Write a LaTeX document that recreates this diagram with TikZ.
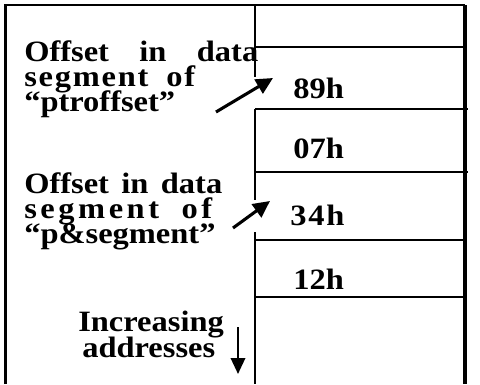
\documentclass[tikz,border=0pt]{standalone}
\usepackage{fontspec}
\setmainfont{Liberation Serif}[FakeStretch=1.1]
\usetikzlibrary{arrows.meta}
\newcommand{\lsp}[2]{{\addfontfeature{LetterSpace=#1}#2}}

\begin{document}
\begin{tikzpicture}[
    lbl/.style={anchor=base west,inner sep=0pt,font=\bfseries\fontsize{21pt}{21pt}\selectfont},
    cell/.style={anchor=base west,inner sep=0pt,font=\bfseries\fontsize{21pt}{21pt}\selectfont},
    rule/.style={line width=1.8pt},
    ptr/.style={line width=2.2pt,-{Triangle[length=0.42cm,width=0.4cm]}}]
  \useasboundingbox (0,0) rectangle (12,9.6);
  % frame and stack column
  \draw[rule] (0.14,0)--(0.14,9.475)--(11.625,9.475);
  \draw[line width=3pt] (11.625,9.475)--(11.625,0);
  \draw[rule] (6.375,9.475)--(6.375,7.675);
  \draw[rule] (6.375,6.875)--(6.375,4.6);
  \draw[rule] (6.375,3.8)--(6.375,0);
  \draw[rule] (6.375,8.425)--(11.625,8.425);
  \draw[rule] (6.375,6.875)--(11.7,6.875);
  \draw[rule] (6.375,5.3)--(11.7,5.3);
  \draw[rule] (6.375,3.6)--(11.625,3.6);
  \draw[rule] (6.375,2.175)--(11.625,2.175);
  % bytes
  \node[cell] (b89) at (7.325,7.15) {89h};
  \node[cell] (b07) at (7.325,5.65) {07h};
  \node[cell] (b34) at (7.25,3.975) {\lsp{6}{34h}};
  \node[cell] (b12) at (7.325,2.375) {12h};
  % labels
  \node[lbl] (offa) at (0.6,8.06) {\makebox[5.85cm][s]{Offset in data}};
  \node[lbl] (sega) at (0.6,7.43) {\makebox[4.275cm][s]{\lsp{6}{segment of}}};
  \node[lbl] (ptra) at (0.6,6.82) {``ptroffset''};
  \node[lbl] (offb) at (0.6,4.76) {\makebox[4.95cm][s]{Offset in data}};
  \node[lbl] (segb) at (0.6,4.13) {\makebox[4.7cm][s]{\lsp{12}{segment of}}};
  \node[lbl] (ptrb) at (0.6,3.52) {``p\&segment''};
  \node[lbl] (inc) at (1.95,1.32) {Increasing};
  \node[lbl] (addr) at (2.05,0.66) {addresses};
  % pointers
  \coordinate (ta) at (5.4,6.8);
  \coordinate (ha) at (6.825,7.65);
  \coordinate (tb) at (5.825,3.9);
  \coordinate (hb) at (6.75,4.575);
  \coordinate (tc) at (5.95,1.425);
  \coordinate (hc) at (5.95,0.25);
  \draw[ptr] (ta)--(ha);
  \draw[ptr] (tb)--(hb);
  \draw[line width=1.6pt,-{Triangle[length=0.4cm,width=0.36cm]}] (tc)--(hc);
\end{tikzpicture}
\end{document}
